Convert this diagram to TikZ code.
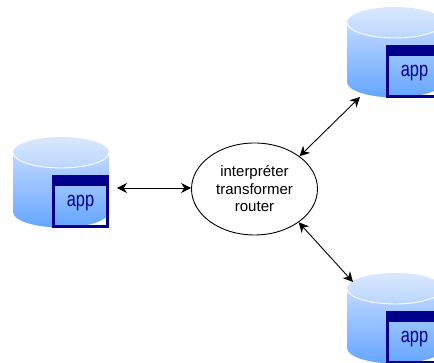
\documentclass[tikz,border=0pt]{standalone}
\usepackage{fontspec}
\setmainfont{Liberation Sans}
\definecolor{winblue}{RGB}{0,0,140}
\definecolor{bodytop}{RGB}{192,217,255}
\definecolor{bodymid}{RGB}{165,200,255}
\definecolor{bodybot}{RGB}{100,165,255}
\definecolor{captop}{RGB}{218,232,253}
\definecolor{capbot}{RGB}{186,214,255}
\tikzset{
  x=1pt,y=1pt,
  link/.style={draw=black,line width=0.9pt,{Stealth[length=10pt,width=10pt]}-{Stealth[length=10pt,width=10pt]}},
  hubnode/.style={draw=black,line width=0.9pt,ellipse,minimum width=126pt,minimum height=92pt,inner sep=0pt,align=center,font=\fontsize{15}{17.5}\selectfont},
  apptext/.style={text=winblue,inner sep=0pt,font=\fontsize{21}{23}\selectfont},
  pics/store/.style={code={
    \shade[top color=bodytop,middle color=bodymid,bottom color=bodybot]
      (0,-15.5) -- (0,-75) arc[start angle=180,end angle=360,x radius=48,y radius=15.5]
      -- (96,-15.5) -- cycle;
    \shade[top color=captop,bottom color=capbot]
      (48,-15.5) ellipse[x radius=48,y radius=15.5];
    \draw[white,line width=0.9pt]
      (0,-15.5) arc[start angle=180,end angle=360,x radius=48,y radius=15.5];
    \fill[winblue] (39,-38) rectangle (96,-49);
    \draw[winblue,line width=3pt] (40.5,-39.5) rectangle (94.5,-89.5);
    \node[apptext,xscale=0.78] (#1) at (67.5,-66.5) {app};
  }}
}
\usetikzlibrary{arrows.meta,shapes.geometric}
\begin{document}
\begin{tikzpicture}
\useasboundingbox (0,0) rectangle (434,363);
\clip (0,0) rectangle (434,363);
\fill[white] (0,0) rectangle (434,363);
\pic at (13,226) {store=appl};
\pic at (347,356) {store=appt};
\pic at (347,90) {store=appb};
\node[hubnode] (hub) at (254.5,174) {interpréter\\transformer\\router};
\coordinate (leftend) at (117,175);
\coordinate (topend) at (360,266);
\coordinate (botend) at (353,81);
\draw[link] (leftend) -- (hub.west |- leftend);
\draw[link] (topend) -- (hub.36);
\draw[link] (hub.-37) -- (botend);
\end{tikzpicture}
\end{document}
